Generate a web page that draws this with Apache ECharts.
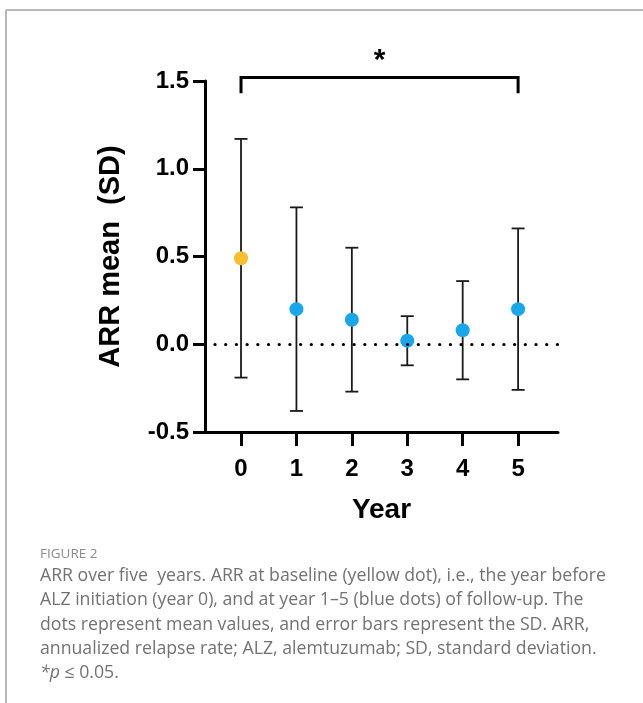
<!DOCTYPE html>
<html>
<head>
<meta charset="utf-8">
<script src="https://cdn.jsdelivr.net/npm/echarts@6/dist/echarts.min.js"></script>
<style>
  html, body { margin: 0; padding: 0; background: #fff; }
  #main { width: 643px; height: 703px; }
</style>
</head>
<body>
<div id="main"></div>
<script>
  // data
  var years = [0, 1, 2, 3, 4, 5];
  var arrMean = [0.49, 0.20, 0.14, 0.02, 0.08, 0.20];
  var arrSD = [0.68, 0.58, 0.41, 0.14, 0.28, 0.46];
  var dotColors = ['#F7BE2F', '#19A6EB', '#19A6EB', '#19A6EB', '#19A6EB', '#19A6EB'];
  var yTicks = [-0.5, 0, 0.5, 1.0, 1.5];
  // significance bracket between year 0 and year 5
  var bracketPair = [0, 5];
  var bracketTop = 1.52;
  var bracketArm = 1.43;
  var starLevel = 1.615;

  var captionLines = [
    'ARR over five  years. ARR at baseline (yellow dot), i.e., the year before',
    'ALZ initiation (year 0), and at year 1\u20135 (blue dots) of follow-up. The',
    'dots represent mean values, and error bars represent the SD. ARR,',
    'annualized relapse rate; ALZ, alemtuzumab; SD, standard deviation.'
  ];

  var font = '"Liberation Sans", Arial, sans-serif';
  var capFont = '17.7px "Open Sans", sans-serif';

  var errData = years.map(function (x, i) {
    return [x, arrMean[i] - arrSD[i], arrMean[i] + arrSD[i]];
  });
  var dotData = years.map(function (x, i) {
    return { value: [x, arrMean[i]], itemStyle: { color: dotColors[i], opacity: 1 } };
  });

  // caption + frame
  var graphics = [
    { type: 'line', shape: { x1: 6, y1: 10, x2: 643, y2: 10 }, style: { stroke: '#b8b8b8', lineWidth: 2 } },
    { type: 'line', shape: { x1: 6, y1: 10, x2: 6, y2: 703 }, style: { stroke: '#b8b8b8', lineWidth: 2 } },
    { type: 'text', left: 40, top: 547, style: { text: 'FIGURE 2', fill: '#8a8a8a', font: '13.5px "Open Sans", sans-serif' } }
  ];
  captionLines.forEach(function (t, i) {
    graphics.push({
      type: 'text', left: 40, top: 567 + i * 24.3,
      style: { text: t, fill: '#727272', font: capFont }
    });
  });
  graphics.push({
    type: 'text', left: 40, top: 567 + 4 * 24.3,
    style: {
      text: '{i|*p} \u2264 0.05.',
      fill: '#727272', font: capFont,
      rich: { i: { fontStyle: 'italic', fontSize: 17.7, fontFamily: '"Open Sans", sans-serif', fill: '#727272' } }
    }
  });

  var myChart = echarts.init(document.getElementById('main'));

  var option = {
    animation: false,
    grid: { left: 205, top: 81, width: 353, height: 351 },
    xAxis: {
      type: 'value',
      min: -0.65,
      max: 5.72,
      name: 'Year',
      nameLocation: 'middle',
      nameGap: 64,
      nameTextStyle: { fontSize: 28, fontWeight: 'bold', color: '#000', fontFamily: font },
      axisLine: { onZero: false, lineStyle: { color: '#000', width: 3 } },
      axisTick: { customValues: years, length: 14, lineStyle: { color: '#000', width: 3 } },
      axisLabel: {
        customValues: years,
        margin: 25,
        fontSize: 24, fontWeight: 'bold', color: '#000', fontFamily: font
      },
      splitLine: { show: false }
    },
    yAxis: {
      type: 'value',
      min: -0.5,
      max: 1.5,
      interval: 0.5,
      name: 'ARR mean  (SD)',
      nameLocation: 'middle',
      nameGap: 80,
      nameTextStyle: { fontSize: 29, fontWeight: 'bold', color: '#000', fontFamily: font },
      axisLine: { show: true, onZero: false, lineStyle: { color: '#000', width: 3 } },
      axisTick: { show: true, length: 12, lineStyle: { color: '#000', width: 3 } },
      axisLabel: {
        margin: 16,
        fontSize: 24, fontWeight: 'bold', color: '#000', fontFamily: font,
        formatter: function (v) { return v.toFixed(1); }
      },
      splitLine: { show: false }
    },
    graphic: graphics,
    series: [
      {
        type: 'custom',
        name: 'SD',
        data: errData,
        z: 2,
        renderItem: function (params, api) {
          var x = api.value(0);
          var lo = api.coord([x, api.value(1)]);
          var hi = api.coord([x, api.value(2)]);
          var cap = 6.5;
          var st = { stroke: '#1a1a1a', lineWidth: 1.8 };
          return {
            type: 'group',
            children: [
              { type: 'line', shape: { x1: lo[0], y1: lo[1], x2: hi[0], y2: hi[1] }, style: st },
              { type: 'line', shape: { x1: hi[0] - cap, y1: hi[1], x2: hi[0] + cap, y2: hi[1] }, style: st },
              { type: 'line', shape: { x1: lo[0] - cap, y1: lo[1], x2: lo[0] + cap, y2: lo[1] }, style: st }
            ]
          };
        }
      },
      {
        type: 'scatter',
        name: 'ARR',
        data: dotData,
        symbolSize: 14,
        z: 3,
        markLine: {
          silent: true,
          symbol: 'none',
          label: { show: false },
          lineStyle: { color: '#000', width: 3.2, type: [0.1, 10.6], cap: 'round' },
          data: [[{ coord: [-0.47, 0] }, { coord: [5.72, 0] }]]
        }
      },
      {
        type: 'custom',
        name: 'bracket',
        clip: false,
        data: [bracketPair],
        renderItem: function (params, api) {
          var a = api.coord([api.value(0), bracketArm]);
          var b = api.coord([api.value(0), bracketTop]);
          var c = api.coord([api.value(1), bracketTop]);
          var d = api.coord([api.value(1), bracketArm]);
          var s = api.coord([(api.value(0) + api.value(1)) / 2, starLevel]);
          return {
            type: 'group',
            children: [
              {
                type: 'polyline',
                shape: { points: [a, b, c, d] },
                style: { stroke: '#000', lineWidth: 3, fill: null }
              },
              {
                type: 'text',
                x: s[0], y: s[1],
                style: {
                  text: '*', align: 'center', verticalAlign: 'middle',
                  font: 'bold 30px ' + font, fill: '#000'
                }
              }
            ]
          };
        }
      }
    ]
  };

  myChart.setOption(option);
</script>
</body>
</html>
